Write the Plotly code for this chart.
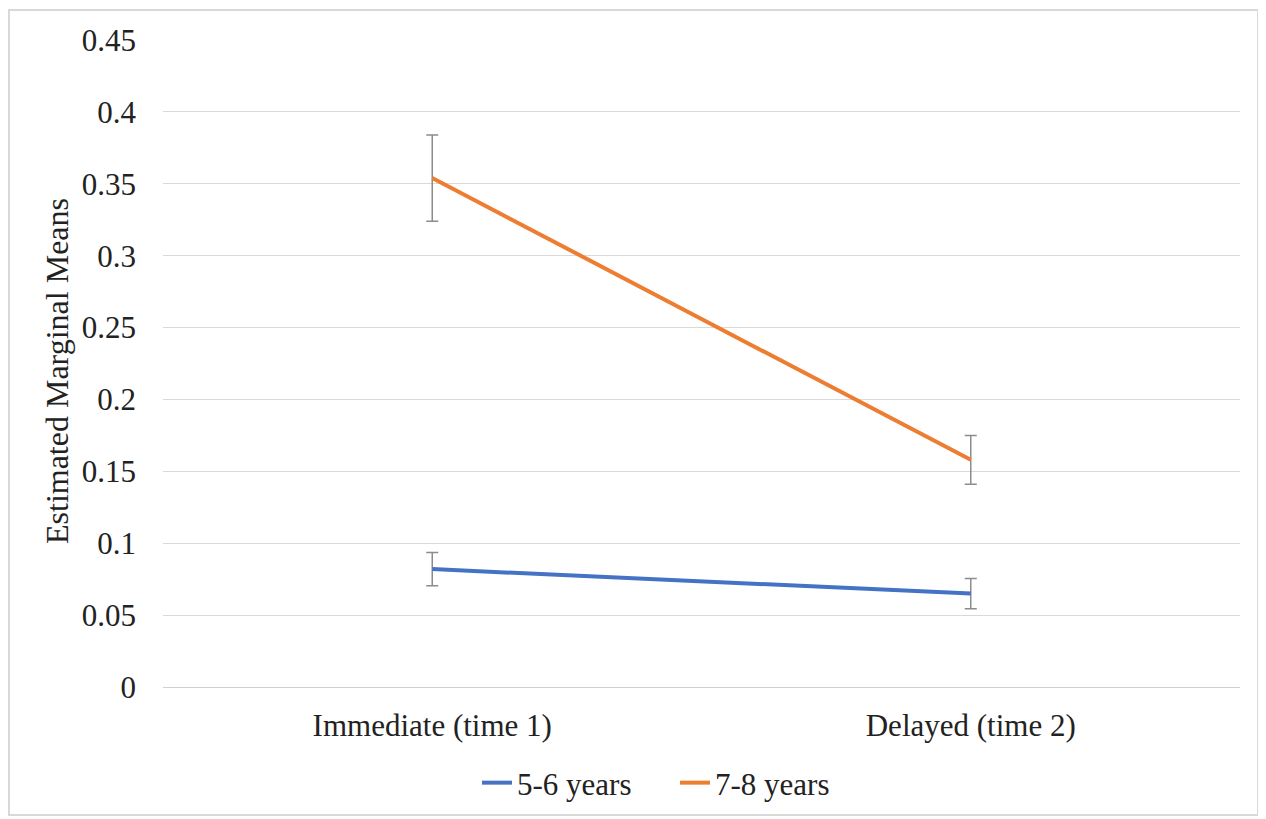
import plotly.graph_objects as go

categories = ["Immediate (time 1)", "Delayed (time 2)"]
series_names = ["5-6 years", "7-8 years"]
young_means = [0.082, 0.065]
young_err = [0.0115, 0.0105]
old_means = [0.354, 0.158]
old_err = [0.030, 0.017]
y_ticks = [0, 0.05, 0.1, 0.15, 0.2, 0.25, 0.3, 0.35, 0.4, 0.45]
y_tick_labels = ["0", "0.05", "0.1", "0.15", "0.2", "0.25", "0.3", "0.35", "0.4", "0.45"]

FONT = "Liberation Serif, Times New Roman, serif"
OFF = 8  # browser body margin
W, H = 1266 - OFF, 819 - OFF
L, R, T, B = 163 - OFF, 26, 40 - OFF, 132
pw, ph = W - L - R, H - T - B


def px(p):  # page x pixel -> paper
    return (p - OFF - L) / pw


def py(p):  # page y pixel -> paper
    return (H - B - (p - OFF)) / ph


fig = go.Figure()
for name, means, errs, color in [
    (series_names[0], young_means, young_err, "#4472C4"),
    (series_names[1], old_means, old_err, "#ED7D31"),
]:
    fig.add_trace(go.Scatter(
        x=categories, y=means, name=name, mode="lines",
        line=dict(color=color, width=4),
        error_y=dict(type="data", array=errs, visible=True,
                     color="#8c8c8c", thickness=1.5, width=6),
    ))

fig.update_layout(
    width=W, height=H,
    margin=dict(l=L, r=R, t=T, b=B, autoexpand=False),
    paper_bgcolor="white", plot_bgcolor="white",
    font=dict(family=FONT, size=31, color="#222222"),
    showlegend=True,
    legend=dict(orientation="h", x=px(675), xanchor="center",
                y=py(783), yanchor="middle", entrywidth=153,
                font=dict(family=FONT, size=31, color="#222222"),
                bgcolor="rgba(0,0,0,0)"),
    xaxis=dict(type="category", range=[-0.5, 1.5], showgrid=False, showline=True,
               linecolor="#d0d0d0", linewidth=1, ticks="",
               tickfont=dict(family=FONT, size=31, color="#222222"),
               ticklabelstandoff=11),
    yaxis=dict(range=[0, 0.45], tickvals=y_ticks, ticktext=y_tick_labels,
               showgrid=True, gridcolor="#d9d9d9", gridwidth=1,
               zeroline=False, showline=False, ticks="",
               ticklabelstandoff=26,
               tickfont=dict(family=FONT, size=31, color="#222222")),
    annotations=[dict(text="Estimated Marginal Means", textangle=-90,
                      xref="paper", yref="paper",
                      x=px(57), y=py(371),
                      xanchor="center", yanchor="middle", showarrow=False,
                      font=dict(family=FONT, size=32, color="#222222"))],
    shapes=[dict(type="rect", xref="paper", yref="paper",
                 x0=px(9), x1=px(1258),
                 y0=py(815), y1=py(10),
                 line=dict(color="#d9d9d9", width=2), layer="below")],
)

fig.write_html("out.html")
